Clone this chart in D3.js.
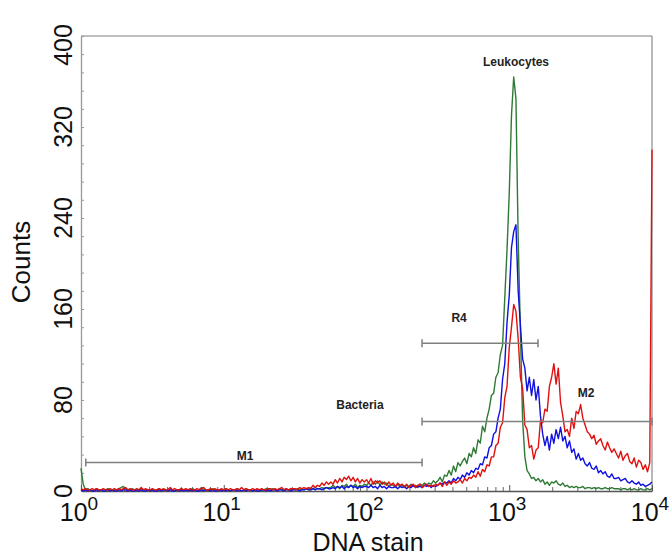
<!DOCTYPE html>
<html><head><meta charset="utf-8">
<script src="https://cdn.jsdelivr.net/npm/d3@7"></script>
<style>body{margin:0;background:#fff} svg{display:block}</style>
</head><body>
<svg id="chart" width="672" height="556"></svg>
<script>
// ---- data ----
const channelsPerDecade = 64;   // histogram channels per log decade (256 channels over 4 decades)
const yTickValues = [0, 80, 160, 240, 320, 400];
const xTickExponents = [0, 1, 2, 3, 4];

const greenCounts = [
20,6,1,2,1,0,1,2,1,0,1,1,2,1,0,1,
1,2,3,4,2,1,1,2,1,0,1,2,1,1,0,1,
1,0,1,2,1,1,0,1,2,1,0,1,1,2,1,0,
1,1,2,1,0,1,3,1,1,0,1,2,1,1,0,1,
1,2,1,0,1,1,2,1,0,1,2,1,1,0,1,1,
1,0,1,2,1,1,2,1,1,2,1,1,2,1,1,2,
1,2,1,2,1,2,2,1,2,3,2,2,3,2,3,3,
3,5,3,4,2,5,4,6,3,5,4,6,3,5,4,6,
5,7,5,8,6,9,5,8,6,7,4,6,5,3,6,4,
5,3,5,4,6,4,5,3,6,5,7,5,7,6,9,7,
9,12,8,14,13,18,14,22,17,25,22,26,29,24,33,30,
38,33,45,42,57,52,64,72,84,86,100,104,120,128,170,212,
262,330,364,345,222,140,62,30,18,15,11,12,9,11,8,10,
6,8,5,8,7,9,6,5,7,4,5,3,4,3,4,3,
3,4,2,3,3,2,3,2,3,2,2,3,2,2,3,2,
2,2,1,2,2,1,2,1,2,1,1,2,1,1,2,1,
2];

const blueCounts = [
1,0,1,0,1,0,0,1,0,1,0,0,1,0,1,0,
0,1,0,1,1,0,1,0,0,1,0,1,0,0,1,0,
1,0,0,1,0,1,1,0,1,0,0,1,0,1,0,1,
0,1,0,1,0,0,1,0,1,1,0,1,0,0,1,0,
1,0,1,0,1,1,0,1,0,1,0,1,1,0,1,0,
0,1,1,0,1,0,1,1,0,1,1,0,1,1,0,1,
1,1,0,1,1,2,1,1,2,1,2,2,1,2,3,2,
2,3,2,4,3,4,2,4,3,5,3,4,2,4,3,4,
4,3,5,3,4,2,5,3,4,2,4,3,3,4,2,4,
3,4,2,4,3,5,3,4,4,3,5,4,5,3,5,4,
5,7,6,8,7,9,7,11,9,12,10,14,12,16,14,18,
16,20,19,24,23,30,29,38,40,50,52,64,72,98,112,148,
172,214,228,234,176,146,116,108,88,100,84,98,80,92,66,50,
40,48,36,50,42,54,46,56,44,48,38,44,34,37,28,33,
27,29,24,22,25,20,19,22,16,18,15,17,13,12,15,11,
11,12,9,10,11,8,7,9,7,6,8,5,6,4,5,6,
8];

const redCounts = [
2,1,2,1,1,2,1,2,1,1,2,1,1,2,1,2,
1,2,1,2,3,1,2,1,1,2,1,3,1,2,1,1,
2,1,1,2,1,2,1,1,3,1,2,1,1,2,1,2,
1,2,1,1,2,1,2,3,1,1,2,1,2,1,1,2,
1,2,1,2,1,1,2,1,3,1,2,1,1,2,1,2,
1,2,1,1,2,2,1,2,1,2,3,1,2,1,2,2,
2,1,3,2,3,2,3,2,5,3,5,4,7,5,8,6,
8,6,10,7,11,8,12,10,13,9,12,8,11,7,10,8,
10,7,11,6,9,7,9,6,8,5,8,5,7,4,7,5,
6,4,6,3,5,6,3,5,6,3,5,6,4,5,4,6,
5,7,4,8,5,8,6,9,7,8,10,7,11,9,12,11,
14,12,17,13,19,17,23,22,30,30,40,42,56,60,82,92,
126,144,164,158,134,100,90,58,54,38,40,28,36,38,62,60,
72,70,92,100,112,94,108,78,66,52,54,48,64,55,70,68,
76,64,58,52,50,46,49,41,44,46,40,36,43,38,34,37,
33,29,35,27,31,33,26,24,29,21,27,25,19,23,17,25,
300];

const seriesNames = ["green", "blue", "red"];
const seriesColors = ["#2f7a34", "#1010e0", "#e01010"];

// gate markers
const markerNames = ["M1", "R4", "M2"];
const markerStart = [1.08, 245, 245];
const markerEnd = [245, 1590, 10000];
const markerLevel = [25, 130, 61];

// annotation labels
const labelTexts = ["M1", "Bacteria", "R4", "M2", "Leukocytes"];
const labelX = [14.1, 90, 445, 3450, 1115];
const labelY = [27, 72, 149, 83, 374];

// ---- chart ----
const svg = d3.select("#chart");
const x = d3.scaleLog().domain([1, 10000]).range([81, 652]);
const y = d3.scaleLinear().domain([0, 400]).range([491, 36]);
const FONT = "'Liberation Sans', Arial, Helvetica, sans-serif";

// frame (top & right)
svg.append("line").attr("x1", x(1)).attr("x2", x(10000)).attr("y1", y(400)).attr("y2", y(400))
  .attr("stroke", "#a8a8a8").attr("stroke-width", 1.5);
svg.append("line").attr("x1", x(10000)).attr("x2", x(10000)).attr("y1", y(400)).attr("y2", y(0))
  .attr("stroke", "#a0a0a0").attr("stroke-width", 1.5);

// left axis with minor ticks inside
const leftAxis = svg.append("g").attr("transform", `translate(${x(1)},0)`)
  .call(d3.axisLeft(y).tickValues(d3.range(0, 401, 16)).tickSize(-3).tickSizeOuter(0).tickFormat(""));
leftAxis.select(".domain").attr("stroke", "#999").attr("stroke-width", 1.3);
leftAxis.selectAll(".tick line").attr("stroke", "#999");

// bottom axis with log minor ticks inside
const minorX = [];
xTickExponents.slice(0, -1).forEach(e => { for (let k = 2; k <= 9; k++) minorX.push(k * Math.pow(10, e)); });
const bottomMinor = svg.append("g").attr("transform", `translate(0,${y(0)})`)
  .call(d3.axisBottom(x).tickValues(minorX).tickSize(-4).tickSizeOuter(0).tickFormat(""));
bottomMinor.select(".domain").attr("stroke", "#555").attr("stroke-width", 1.3);
bottomMinor.selectAll(".tick line").attr("stroke", "#666");
const bottomMajor = svg.append("g").attr("transform", `translate(0,${y(0)})`)
  .call(d3.axisBottom(x).tickValues(xTickExponents.map(e => Math.pow(10, e))).tickSize(-6).tickSizeOuter(0).tickFormat(""));
bottomMajor.select(".domain").remove();
bottomMajor.selectAll(".tick line").attr("stroke", "#555");

// series lines
const seriesData = [greenCounts, blueCounts, redCounts];
const line = d3.line()
  .x((d, i) => x(Math.pow(10, i / channelsPerDecade)))
  .y(d => y(d));
seriesData.forEach((vals, s) => {
  svg.append("path").datum(vals)
    .attr("fill", "none").attr("stroke", seriesColors[s])
    .attr("stroke-width", 1.4).attr("stroke-linejoin", "round")
    .attr("d", line);
});

// gate markers
markerNames.forEach((n, k) => {
  const g = svg.append("g").attr("stroke", "#7f7f7f").attr("stroke-width", 1.5);
  const yy = y(markerLevel[k]), x1 = x(markerStart[k]), x2 = x(markerEnd[k]);
  g.append("line").attr("x1", x1).attr("x2", x2).attr("y1", yy).attr("y2", yy);
  g.append("line").attr("x1", x1).attr("x2", x1).attr("y1", yy - 4).attr("y2", yy + 4);
  g.append("line").attr("x1", x2).attr("x2", x2).attr("y1", yy - 4).attr("y2", yy + 4);
});

// annotation labels
labelTexts.forEach((t, k) => {
  svg.append("text").attr("x", x(labelX[k])).attr("y", y(labelY[k]))
    .attr("text-anchor", "middle").attr("font-family", FONT)
    .attr("font-weight", "bold").attr("font-size", 12).attr("fill", "#222")
    .text(t);
});

// y tick labels (rotated); the top one is nudged down to stay inside the page
yTickValues.forEach(v => {
  const cy = Math.max(y(v), 45);
  svg.append("text")
    .attr("transform", `translate(72,${cy}) rotate(-90)`)
    .attr("text-anchor", "middle").attr("font-family", FONT)
    .attr("font-size", 25).attr("fill", "#111").text(v);
});

// x tick labels 10^n
xTickExponents.forEach(e => {
  const t = svg.append("text")
    .attr("x", x(Math.pow(10, e)) - 2).attr("y", 521)
    .attr("text-anchor", "middle").attr("font-family", FONT)
    .attr("font-size", 25).attr("fill", "#111");
  t.append("tspan").text("10");
  t.append("tspan").attr("dy", -11).attr("font-size", 19).text(e);
});

// axis titles
svg.append("text").attr("x", 368).attr("y", 551)
  .attr("text-anchor", "middle").attr("font-family", FONT)
  .attr("font-size", 25).attr("fill", "#111").text("DNA stain");
svg.append("text").attr("transform", "translate(30,262) rotate(-90)")
  .attr("text-anchor", "middle").attr("font-family", FONT)
  .attr("font-size", 26).attr("fill", "#111").text("Counts");
</script>
</body></html>
